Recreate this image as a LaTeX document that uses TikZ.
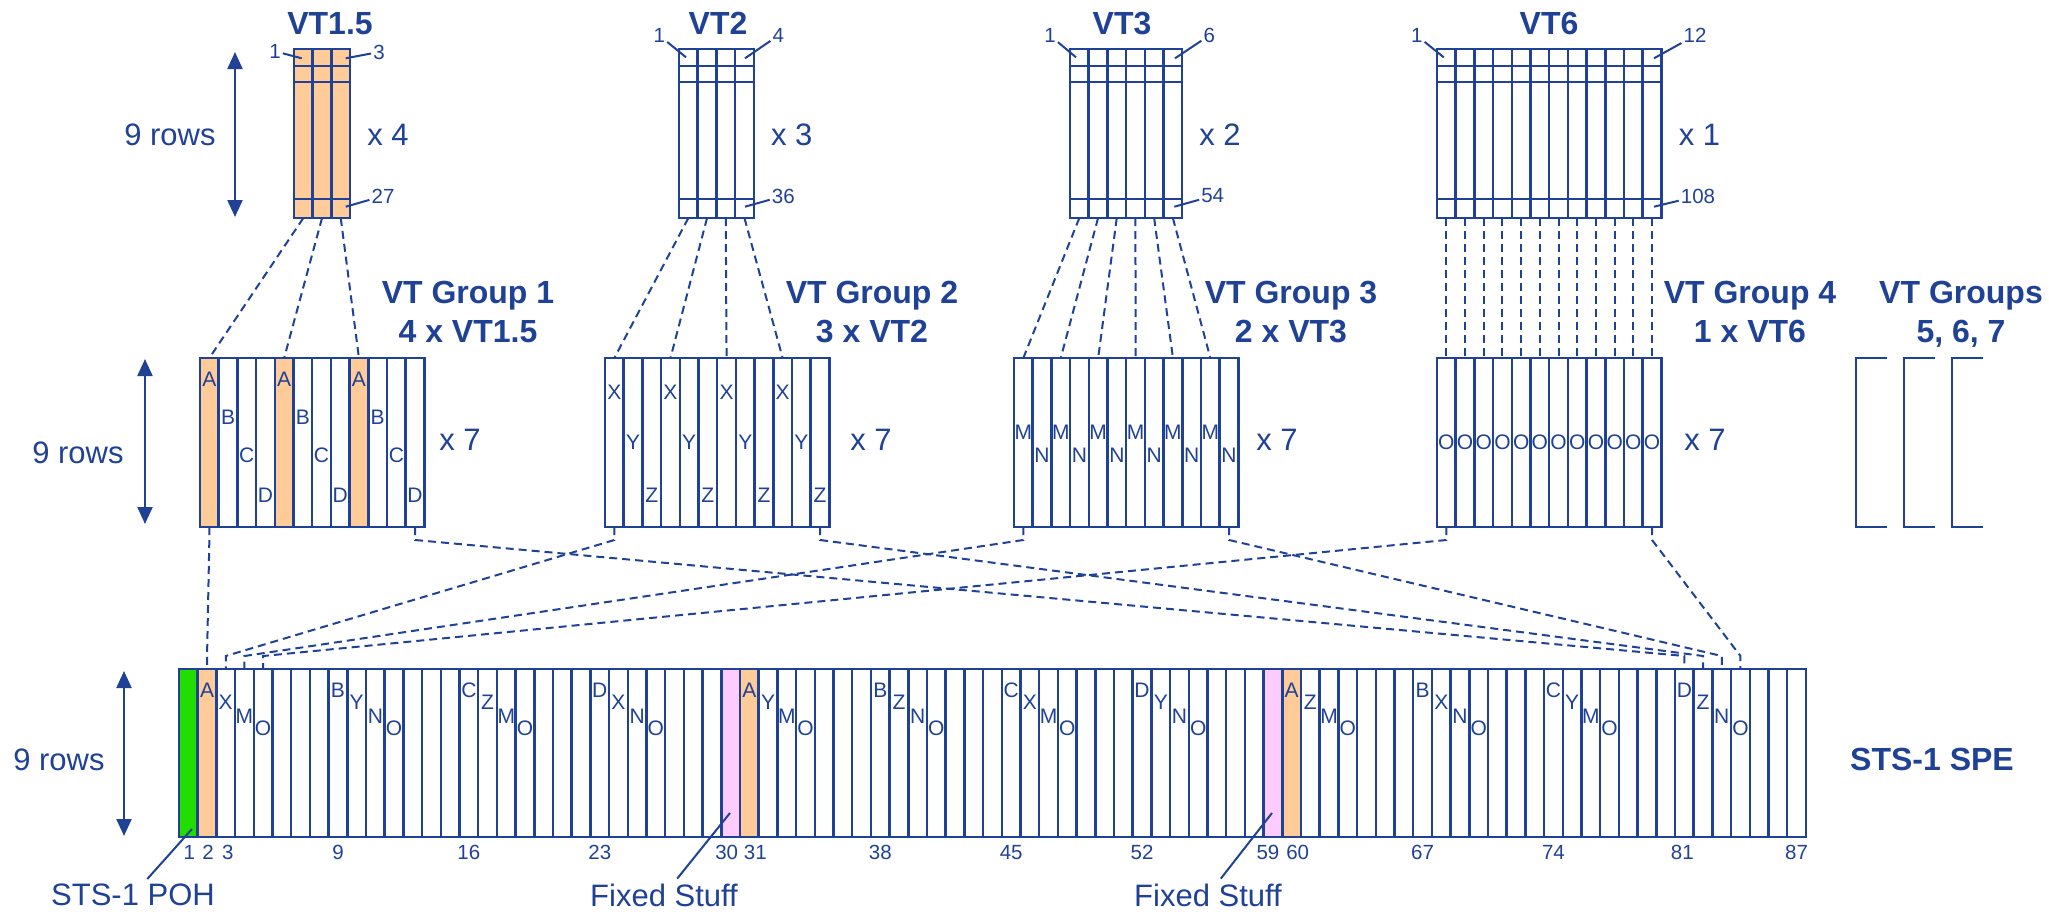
\documentclass[tikz,border=0pt]{standalone}
\usepackage{fontspec}
\setmainfont{Liberation Sans}
\usetikzlibrary{arrows.meta}
\definecolor{sonetblue}{RGB}{31,65,150}
\definecolor{vtorange}{RGB}{255,204,153}
\definecolor{stuffpink}{RGB}{255,204,255}
\definecolor{pohgreen}{RGB}{34,221,0}
\tikzset{
  boxline/.style={draw=sonetblue, line width=2.5pt},
  vtlink/.style={draw=sonetblue, line width=2pt, dash pattern=on 8pt off 5pt},
  leadline/.style={draw=sonetblue, line width=2pt},
  rowarrow/.style={draw=sonetblue, line width=2.2pt,
    {Triangle[width=15pt,length=17pt]}-{Triangle[width=15pt,length=17pt]}},
  bigtxt/.style={text=sonetblue, inner sep=0pt, font=\fontsize{31}{31}\selectfont},
  namelabel/.style={bigtxt, outer sep=5pt},
  headtxt/.style={text=sonetblue, inner sep=0pt, font=\fontsize{32}{32}\selectfont\bfseries},
  smalltxt/.style={text=sonetblue, inner sep=2pt, font=\fontsize{20.5}{20.5}\selectfont},
  celltxt/.style={text=sonetblue, inner sep=0pt, font=\fontsize{21}{21}\selectfont},
}

\begin{document}
\begin{tikzpicture}[x=1pt, y=-1pt]
  \useasboundingbox (0,0) rectangle (2049,913);
  %VT boxes
  \fill[vtorange] (294,49) rectangle (350.1,218);
  \foreach \x/\n/\nm in {294/3/a, 679/4/b, 1070/6/c, 1437/12/d}{
    \draw[boxline] (\x,49) rectangle (\x+\n*18.7,218);
    \foreach \i in {1,...,\n}{
      \draw[boxline] (\x+\i*18.7,49) -- (\x+\i*18.7,218);
      \coordinate (vt\nm\i) at (\x+\i*18.7-9.35,218);
    }
    \foreach \y in {66,82,199}
      \draw[boxline] (\x,\y) -- (\x+\n*18.7,\y);
  }
  %VT titles
  \node[headtxt, anchor=base] (vtname1) at (330,34.5) {VT1.5};
  \node[headtxt, anchor=base] (vtname2) at (718,34.5) {VT2};
  \node[headtxt, anchor=base] (vtname3) at (1122,34.5) {VT3};
  \node[headtxt, anchor=base] (vtname6) at (1549,34.5) {VT6};
  %Byte numbers
  \node[smalltxt] (vtafirst) at (275,51.3) {1};
  \node[smalltxt] (vtalast) at (379,52) {3};
  \node[smalltxt] (vtaend) at (383,196) {27};
  \node[smalltxt] (vtbfirst) at (659.3,35.5) {1};
  \node[smalltxt] (vtblast) at (778.3,35.5) {4};
  \node[smalltxt] (vtbend) at (783.3,196) {36};
  \node[smalltxt] (vtcfirst) at (1050,35.5) {1};
  \node[smalltxt] (vtclast) at (1209.3,35.5) {6};
  \node[smalltxt] (vtcend) at (1212.7,196) {54};
  \node[smalltxt] (vtdfirst) at (1416.7,35.5) {1};
  \node[smalltxt] (vtdlast) at (1695,35.5) {12};
  \node[smalltxt] (vtdend) at (1698,196) {108};
  \draw[leadline] (vtafirst) -- (301.7,58.3);
  \draw[leadline] (vtalast) -- (345.7,58.3);
  \draw[leadline] (vtaend) -- (345.7,206.7);
  \draw[leadline] (vtbfirst) -- (686,57.3);
  \draw[leadline] (vtblast) -- (745,58.3);
  \draw[leadline] (vtbend) -- (745,206.7);
  \draw[leadline] (vtcfirst) -- (1076,57.3);
  \draw[leadline] (vtclast) -- (1175,58.3);
  \draw[leadline] (vtcend) -- (1174.3,206.7);
  \draw[leadline] (vtdfirst) -- (1443.7,57.3);
  \draw[leadline] (vtdlast) -- (1654,58.3);
  \draw[leadline] (vtdend) -- (1654,206.7);
  %Multipliers
  \node[bigtxt, anchor=base] (vtrows) at (170,145.7) {9 rows};
  \node[bigtxt, anchor=base] (vtarep) at (388,145.5) {x 4};
  \node[bigtxt, anchor=base] (vtbrep) at (791.7,145.5) {x 3};
  \node[bigtxt, anchor=base] (vtcrep) at (1220,145.5) {x 2};
  \node[bigtxt, anchor=base] (vtdrep) at (1699.5,145.5) {x 1};
  \draw[rowarrow] (235,52) -- (235,217);

  %VT groups
  \foreach \c in {1,5,9}
    \fill[vtorange] (200+\c*18.7-18.7,358) rectangle ++(18.7,169);
  \foreach \x/\nm in {200/a, 605/b, 1014/c, 1437/d}{
    \draw[boxline] (\x,358) rectangle (\x+224.4,527);
    \foreach \i in {1,...,12}{
      \draw[boxline] (\x+\i*18.7,358) -- (\x+\i*18.7,527);
      \coordinate (g\nm t\i) at (\x+\i*18.7-9.35,358);
      \coordinate (g\nm b\i) at (\x+\i*18.7-9.35,527);
    }
  }
  %Column letters
  \foreach \k in {0,4,8}
    \foreach \c/\l/\y in {1/A/379, 2/B/417, 3/C/455, 4/D/495}
      \node[celltxt] (ga\l\k) at (200+\k*18.7+\c*18.7-9.35,\y) {\l};
  \foreach \k in {0,3,6,9}
    \foreach \c/\l/\y in {1/X/392, 2/Y/442, 3/Z/495}
      \node[celltxt] (gb\l\k) at (605+\k*18.7+\c*18.7-9.35,\y) {\l};
  \foreach \k in {0,2,...,10}
    \foreach \c/\l/\y in {1/M/432, 2/N/455}
      \node[celltxt] (gc\l\k) at (1014+\k*18.7+\c*18.7-9.35,\y) {\l};
  \foreach \c in {1,...,12}
    \node[celltxt] (gdO\c) at (1437+\c*18.7-9.35,442) {O};
  %Groups 5, 6, 7
  \foreach \x in {1856,1904,1952}
    \draw[boxline] (\x+31,358) -- (\x,358) -- (\x,527) -- (\x+31,527);
  %Group titles
  \foreach \x/\i/\t/\u in {468/1/VT Group 1/4 x VT1.5, 872/2/VT Group 2/3 x VT2,
      1291/3/VT Group 3/2 x VT3, 1750/4/VT Group 4/1 x VT6, 1961/5/VT Groups/{5, 6, 7}}{
    \node[headtxt, anchor=base] (grpname\i) at (\x,303) {\t};
    \node[headtxt, anchor=base] (grpkind\i) at (\x,342) {\u};
  }
  \foreach \x/\i in {460/a, 871/b, 1277/c, 1705/d}
    \node[bigtxt, anchor=base] (g\i rep) at (\x,450) {x 7};
  \node[bigtxt, anchor=base] (grows) at (78,463) {9 rows};
  \draw[rowarrow] (145,359) -- (145,524);

  %STS-1 SPE
  \fill[pohgreen] (179,669) rectangle ++(18.7,168);
  \foreach \c in {2,31,60}
    \fill[vtorange] (179+\c*18.7-18.7,669) rectangle ++(18.7,168);
  \foreach \c in {30,59}
    \fill[stuffpink] (179+\c*18.7-18.7,669) rectangle ++(18.7,168);
  \draw[boxline] (179,669) rectangle (1805.9,837);
  \foreach \c in {1,...,87}{
    \draw[boxline] (179+\c*18.7,669) -- ++(0,168);
    \coordinate (spe\c) at (179+\c*18.7-9.35,669);
  }
  \foreach \c/\p/\q/\r in {2/A/X/M, 9/B/Y/N, 16/C/Z/M, 23/D/X/N, 31/A/Y/M, 38/B/Z/N,
      45/C/X/M, 52/D/Y/N, 60/A/Z/M, 67/B/X/N, 74/C/Y/M, 81/D/Z/N}{
    \node[celltxt] (s\c-a) at (179+\c*18.7-9.35,690) {\p};
    \node[celltxt] (s\c-b) at (179+\c*18.7+9.35,702) {\q};
    \node[celltxt] (s\c-c) at (179+\c*18.7+28.05,716) {\r};
    \node[celltxt] (s\c-d) at (179+\c*18.7+46.75,728) {O};
  }
  %Column numbers
  \foreach \c/\dx in {1/1, 2/1, 3/2, 9/0, 16/0, 23/0, 30/-4, 31/6, 38/0, 45/0,
      52/0, 59/-5, 60/6, 67/0, 74/0, 81/-2, 87/0}
    \node[smalltxt, anchor=base] (num\c) at (179+\c*18.7-9.35+\dx,859) {\c};
  \node[bigtxt, anchor=base] (sperows) at (59,770) {9 rows};
  \draw[rowarrow] (124,671) -- (124,836);
  \node[headtxt, anchor=base] (spename) at (1932,770) {STS-1 SPE};
  \node[namelabel] (poh) at (133,895) {STS-1 POH};
  \node[namelabel] (stuff1) at (664,895) {Fixed Stuff};
  \node[namelabel] (stuff2) at (1208,895) {Fixed Stuff};
  \draw[leadline] (poh) -- (192,829);
  \draw[leadline] (stuff1) -- (730,813);
  \draw[leadline] (stuff2) -- (1272,813);

  %Links
  \foreach \i/\j in {1/1, 2/5, 3/9}
    \draw[vtlink] (vta\i) -- (gat\j);
  \foreach \i/\j in {1/1, 2/4, 3/7, 4/10}
    \draw[vtlink] (vtb\i) -- (gbt\j);
  \foreach \i/\j in {1/1, 2/3, 3/5, 4/7, 5/9, 6/11}
    \draw[vtlink] (vtc\i) -- (gct\j);
  \foreach \i in {1,...,12}
    \draw[vtlink] (vtd\i) -- (gdt\i);
  \foreach \g/\i/\c in {a/1/2, b/1/3, c/1/4, d/1/5, a/12/81, b/12/82, c/12/83, d/12/84}
    \draw[vtlink] (g\g b\i) -- ++(0,13) -- ([yshift=13pt]spe\c) -- (spe\c);
\end{tikzpicture}
\end{document}
